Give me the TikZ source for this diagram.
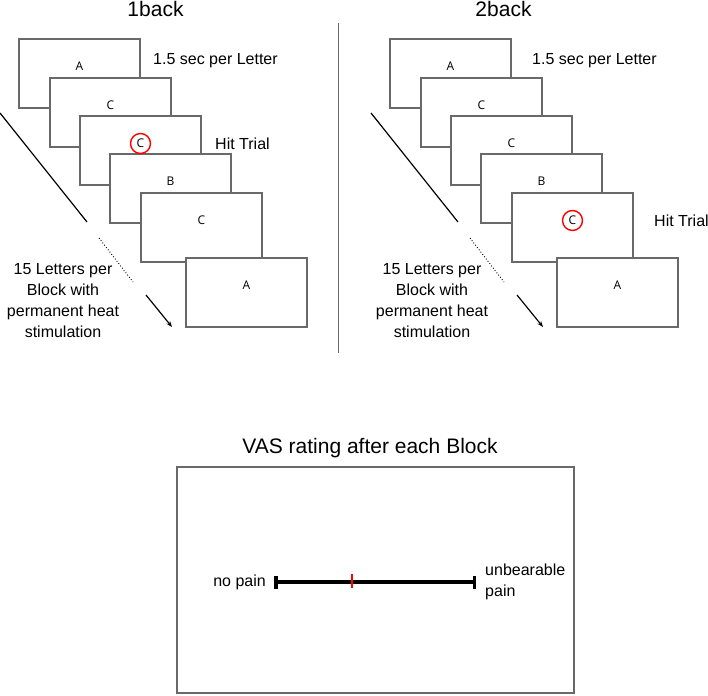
\documentclass[tikz,border=0pt]{standalone}
\usepackage{fontspec}
\setmainfont{Liberation Sans}
\newfontfamily\letterfont{Open Sans}
\usepackage{tikz}
\definecolor{framegray}{RGB}{105,105,105}
\tikzset{letterbox/.style={draw=framegray,line width=1.1pt,fill=white,minimum width=121pt,minimum height=69pt,inner sep=0pt},
         letter/.style={font=\letterfont\fontsize{12}{14}\selectfont,inner sep=1pt},
         hitmark/.style={circle,draw=red,line width=1.4pt,minimum size=20pt,inner sep=0pt},
         note/.style={font=\fontsize{16}{21}\selectfont,inner sep=0pt},
         heading/.style={font=\fontsize{21}{25}\selectfont,inner sep=0pt}}
\usetikzlibrary{arrows.meta}

\begin{document}
\begin{tikzpicture}[x=1pt,y=-1pt]
\useasboundingbox (0,0) rectangle (708,695);

\foreach \s/\dx/\hit/\name/\tx/\secx/\hitx/\ix in {a/0/3/1back/155.5/153/215/63, b/371/5/2back/132.5/161/283/61}
{
\begin{scope}[shift={(\dx,0)}]
\node[heading,anchor=base] (title\s) at (\tx,17) {\name};
\foreach \i/\x/\y/\t in {1/79.5/73.5/A, 2/110.5/112.5/C, 3/140.5/150.5/C, 4/170.5/188.5/B, 5/201.5/227.5/C, 6/246.5/292.5/A}
{
\node[letterbox] (box\s\i) at (\x,\y) {};
\node[letter] (let\s\i) at ([yshift=7pt]box\s\i.center) {\t};
}
\node[hitmark] (hit\s) at (let\s\hit.center) {};
\node[note,anchor=west] (sec\s) at (\secx,61) {1.5 sec per Letter};
\node[note,anchor=west] (hitlabel\s) at (\hitx,0 |- hit\s) {Hit Trial};
\node[note,align=center] (info\s) at (\ix,301) {15 Letters per\\Block with\\permanent heat\\stimulation};

\coordinate (go\s) at (0,113);
\coordinate (pause\s) at (87,222);
\coordinate (dots\s) at (99,238);
\coordinate (dotsend\s) at (133,282);
\coordinate (tip\s) at (146,295);
\coordinate (tipend\s) at (172,327);
\draw[line width=1.2pt] (go\s) -- (pause\s);
\draw[line width=0.9pt,dotted] (dots\s) -- (dotsend\s);
\draw[line width=1.2pt,-{Stealth[length=6pt,width=4.5pt]}] (tip\s) -- (tipend\s);
\end{scope}
}

\draw[framegray,line width=1pt] (338,23) -- (338,353);

\node[heading,anchor=base] (vastitle) at (370,453) {VAS rating after each Block};
\node[draw=framegray,line width=1.5pt,minimum width=397pt,minimum height=226pt] (vasbox) at (375.5,580) {};
\coordinate (nopainend) at (274,582);
\coordinate (painend) at (476,582);
\coordinate (rating) at (352,581);
\draw[line width=3.5pt,{Bar[width=13pt]}-{Bar[width=13pt]}] (nopainend) -- (painend);
\draw[red,line width=2.5pt] ([yshift=7pt]rating) -- ([yshift=-7pt]rating);
\node[note,anchor=east] (nopain) at ([xshift=-8pt]nopainend) {no pain};
\node[note,anchor=west,align=left] (unbearable) at ([xshift=9pt]painend) {unbearable\\pain};
\end{tikzpicture}
\end{document}
